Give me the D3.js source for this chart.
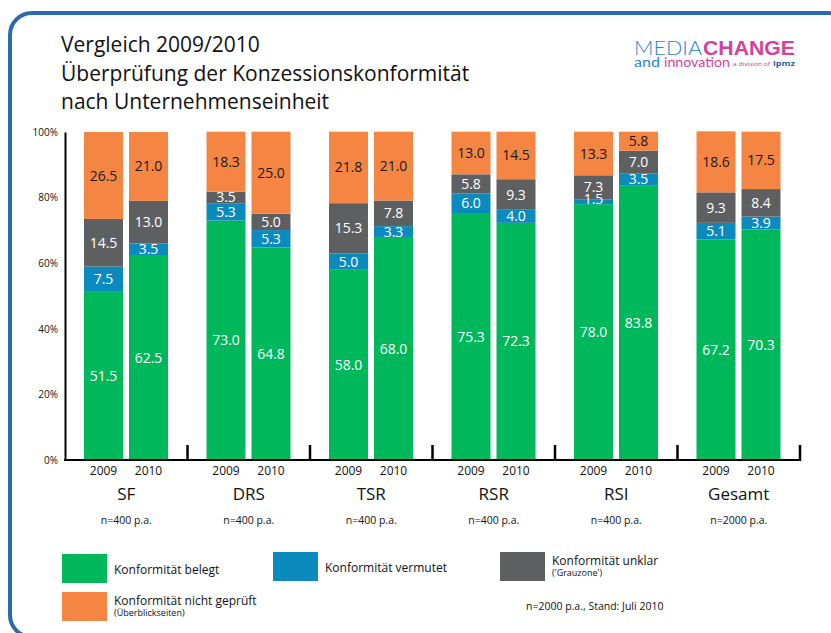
<!DOCTYPE html>
<html><head><meta charset="utf-8">
<script src="https://cdn.jsdelivr.net/npm/d3@7"></script>
<style>
html,body{margin:0;padding:0;background:#fff;}
svg{display:block;font-family:"Open Sans",sans-serif;}
</style></head>
<body><svg id="c" width="831" height="633"></svg>
<script>
const titleLines = ["Vergleich 2009/2010", "Überprüfung der Konzessionskonformität", "nach Unternehmenseinheit"];
const categories = ["SF", "DRS", "TSR", "RSR", "RSI", "Gesamt"];
const sampleLabels = ["n=400 p.a.", "n=400 p.a.", "n=400 p.a.", "n=400 p.a.", "n=400 p.a.", "n=2000 p.a."];
const years = ["2009", "2010"];
const yTicks = [0, 20, 40, 60, 80, 100];
// values per bar: SF 2009, SF 2010, DRS 2009, DRS 2010, ...
const belegt        = [51.5, 62.5, 73.0, 64.8, 58.0, 68.0, 75.3, 72.3, 78.0, 83.8, 67.2, 70.3];
const vermutet      = [7.5, 3.5, 5.3, 5.3, 5.0, 3.3, 6.0, 4.0, 1.5, 3.5, 5.1, 3.9];
const unklar        = [14.5, 13.0, 3.5, 5.0, 15.3, 7.8, 5.8, 9.3, 7.3, 7.0, 9.3, 8.4];
const nichtGeprueft = [26.5, 21.0, 18.3, 25.0, 21.8, 21.0, 13.0, 14.5, 13.3, 5.8, 18.6, 17.5];
const seriesKeys = ["belegt", "vermutet", "unklar", "nicht"];
const seriesColors = ["#00b85c", "#0b8bbd", "#5e5f61", "#f58543"];
const labelColors = ["#ffffff", "#ffffff", "#ffffff", "#1a1a1a"];
const legendNames = ["Konformität belegt", "Konformität vermutet", "Konformität unklar", "Konformität nicht geprüft"];
const legendSubs = ["", "", "('Grauzone')", "(Überblickseiten)"];
const footnote = "n=2000 p.a., Stand: Juli 2010";

const svg = d3.select("#c");

// frame
svg.append("rect").attr("x", 10).attr("y", 13).attr("width", 840).attr("height", 624)
  .attr("rx", 22).attr("fill", "none").attr("stroke", "#2a6aad").attr("stroke-width", 4);

// title
svg.append("g").selectAll("text").data(titleLines).join("text")
  .attr("x", 61).attr("y", (d, i) => 52 + i * 28.5)
  .attr("font-size", 21).attr("fill", "#111").text(d => d);

// logo
const logo = svg.append("g");
logo.append("text").attr("x", 634).attr("y", 55).attr("font-size", 20).attr("font-weight", 300)
  .attr("font-family", "Lato, sans-serif")
  .attr("fill", "#2a86c8").attr("textLength", 68).attr("lengthAdjust", "spacingAndGlyphs").text("MEDIA");
logo.append("text").attr("x", 703).attr("y", 55).attr("font-size", 20).attr("font-weight", 700)
  .attr("font-family", "Liberation Sans, Arial, sans-serif")
  .attr("fill", "#d2449b").attr("textLength", 92).attr("lengthAdjust", "spacingAndGlyphs").text("CHANGE");
logo.append("text").attr("x", 634).attr("y", 67).attr("font-size", 13).attr("font-family", "Lato, sans-serif")
  .attr("fill", "#2a86c8").attr("textLength", 26).attr("lengthAdjust", "spacingAndGlyphs").text("and");
logo.append("text").attr("x", 664).attr("y", 67).attr("font-size", 13).attr("font-family", "Lato, sans-serif")
  .attr("fill", "#d2449b").attr("textLength", 66).attr("lengthAdjust", "spacingAndGlyphs").text("innovation");
logo.append("text").attr("x", 733).attr("y", 66).attr("font-size", 6)
  .attr("fill", "#c0387f").attr("textLength", 37).attr("lengthAdjust", "spacingAndGlyphs").text("a division of");
logo.append("text").attr("x", 773).attr("y", 66).attr("font-size", 7.5).attr("font-weight", 700)
  .attr("fill", "#1d5fa8").attr("textLength", 22).attr("lengthAdjust", "spacingAndGlyphs").text("ipmz");

// data rows
const rows = [];
categories.forEach((c, ci) => years.forEach((y, yi) => {
  const k = ci * 2 + yi;
  rows.push({cat: c, year: y, belegt: belegt[k], vermutet: vermutet[k], unklar: unklar[k], nicht: nichtGeprueft[k]});
}));

const x0 = d3.scaleBand().domain(categories).range([65, 800]);
const x1 = d3.scaleBand().domain(years).range([19, 103]).paddingInner(0.1333);
const y = d3.scaleLinear().domain([0, 100]).range([460, 132]);

const stack = d3.stack().keys(seriesKeys)(rows);

const gBars = svg.append("g");
stack.forEach((layer, si) => {
  const g = gBars.append("g");
  g.selectAll("rect").data(layer).join("rect")
    .attr("x", d => x0(d.data.cat) + x1(d.data.year))
    .attr("width", x1.bandwidth())
    .attr("y", d => y(d[1]))
    .attr("height", d => y(d[0]) - y(d[1]))
    .attr("fill", seriesColors[si]);
});
stack.forEach((layer, si) => {
  gBars.append("g").selectAll("text").data(layer).join("text")
    .attr("x", d => x0(d.data.cat) + x1(d.data.year) + x1.bandwidth() / 2)
    .attr("y", d => (y(d[0]) + y(d[1])) / 2 + ((d[1] - d[0]) < 2 ? -3 : 0))
    .attr("dy", "0.36em")
    .attr("text-anchor", "middle").attr("font-size", 14)
    .attr("fill", labelColors[si])
    .text(d => (d[1] - d[0]).toFixed(1));
});

// y axis
const yAxis = d3.axisLeft(y).tickValues(yTicks).tickFormat(d => d + "%").tickSize(0).tickPadding(7);
const gy = svg.append("g").attr("transform", "translate(65,0)").call(yAxis);
gy.select(".domain").attr("stroke", "#000").attr("stroke-width", 2);
gy.selectAll("text").attr("font-size", 10).attr("font-family", "Open Sans, sans-serif").attr("fill", "#111");

// x axis baseline and separators
svg.append("line").attr("x1", 64).attr("x2", 801).attr("y1", 460).attr("y2", 460)
  .attr("stroke", "#000").attr("stroke-width", 2);
svg.append("g").selectAll("line").data(categories).join("line")
  .attr("x1", d => x0(d) + x0.bandwidth()).attr("x2", d => x0(d) + x0.bandwidth())
  .attr("y1", 445).attr("y2", 461).attr("stroke", "#000").attr("stroke-width", 2.5);

// year labels
svg.append("g").selectAll("text").data(rows).join("text")
  .attr("x", d => x0(d.cat) + x1(d.year) + x1.bandwidth() / 2)
  .attr("y", 475).attr("text-anchor", "middle").attr("font-size", 12).attr("fill", "#111")
  .text(d => d.year);

// category labels
svg.append("g").selectAll("text").data(categories).join("text")
  .attr("x", d => x0(d) + x0.bandwidth() / 2).attr("y", 500)
  .attr("text-anchor", "middle").attr("font-size", 17).attr("fill", "#111").text(d => d);
svg.append("g").selectAll("text").data(sampleLabels).join("text")
  .attr("x", (d, i) => x0(categories[i]) + x0.bandwidth() / 2).attr("y", 524)
  .attr("text-anchor", "middle").attr("font-size", 10.5).attr("fill", "#111").text(d => d);

// legend
const legendPos = [[62, 554], [273, 552], [500, 552], [62, 592]];
const lg = svg.append("g");
legendNames.forEach((name, i) => {
  const [lx, ly] = legendPos[i];
  lg.append("rect").attr("x", lx).attr("y", ly).attr("width", 45).attr("height", 29).attr("fill", seriesColors[i]);
  const ty = legendSubs[i] ? ly + 13 : ly + 20;
  lg.append("text").attr("x", lx + 52).attr("y", ty).attr("font-size", 12).attr("fill", "#111").text(name);
  if (legendSubs[i]) lg.append("text").attr("x", lx + 52).attr("y", ty + 11).attr("font-size", 9).attr("fill", "#111").text(legendSubs[i]);
});
svg.append("text").attr("x", 526).attr("y", 610).attr("font-size", 10.5).attr("fill", "#111").text(footnote);
</script></body></html>
